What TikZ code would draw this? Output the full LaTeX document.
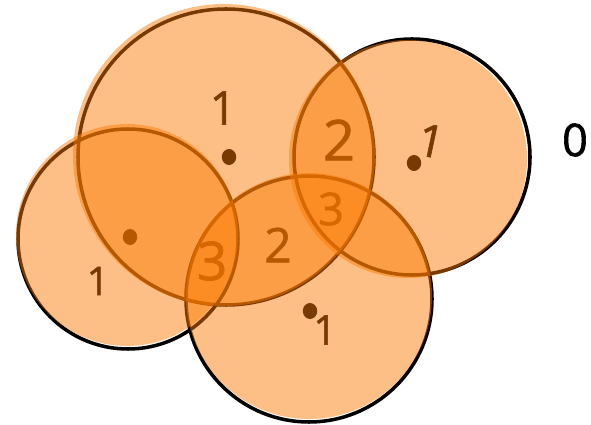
\documentclass[tikz,border=0pt]{standalone}
\usepackage{fontspec}
\setmainfont{Open Sans}
\newfontfamily\handfont[FakeBold=1.3]{Open Sans}
\definecolor{clrPaint}{RGB}{251,122,0}
\tikzset{
  ring/.style={draw=black,line width=2.5pt},
  paint/.style={fill=clrPaint,fill opacity=0.48},
  count/.style={inner sep=0pt,text=black},
  seed/.style={ellipse,fill=black,inner sep=0pt,minimum width=3.6mm,minimum height=4mm}
}
\usetikzlibrary{shapes.geometric}
\newcommand{\digitsize}[1]{\fontsize{#1}{#1}\handfont}

\begin{document}
\begin{tikzpicture}[x=0.025cm,y=-0.025cm]
  \useasboundingbox (0,0) rectangle (591,425);

  % counts and centres, under the paint
  \node[count,font=\digitsize{33pt}] (bigone) at (223,108) {1};
  \node[seed] (bigdot) at (229,157) {};
  \node[count,font=\digitsize{28pt}] (leftone) at (98,281) {1};
  \node[seed] (leftdot) at (130,237) {};
  \node[count,font=\digitsize{32pt},rotate=-12] (rightone) at (431,141) {1};
  \node[seed] (rightdot) at (414,163) {};
  \node[count,font=\digitsize{29pt}] (lowone) at (325,330) {1};
  \node[seed] (lowdot) at (310,311) {};
  \node[count,font=\digitsize{40pt}] (toptwo) at (339,140) {2};
  \node[count,font=\digitsize{32pt}] (rightthree) at (331,209) {3};
  \node[count,font=\digitsize{34pt}] (midtwo) at (278,245) {2};
  \node[count,font=\digitsize{38pt}] (leftthree) at (212,261) {3};
  \node[count,font=\digitsize{32pt}] (outzero) at (575,140) {0};

  % outlines
  \draw[ring] (226,157) circle[radius=148];
  \draw[ring] (128,239) circle[radius=110];
  \draw[ring] (412,157) circle[radius=118];
  \draw[ring] (309,299) circle[radius=123];

  % paint, a little off the outlines
  \fill[paint] (224,155) circle[radius=151];
  \fill[paint] (127,235) circle[radius=111];
  \fill[paint] (408,159) circle[radius=119];
  \fill[paint] (309,296) circle[radius=123];
\end{tikzpicture}
\end{document}
